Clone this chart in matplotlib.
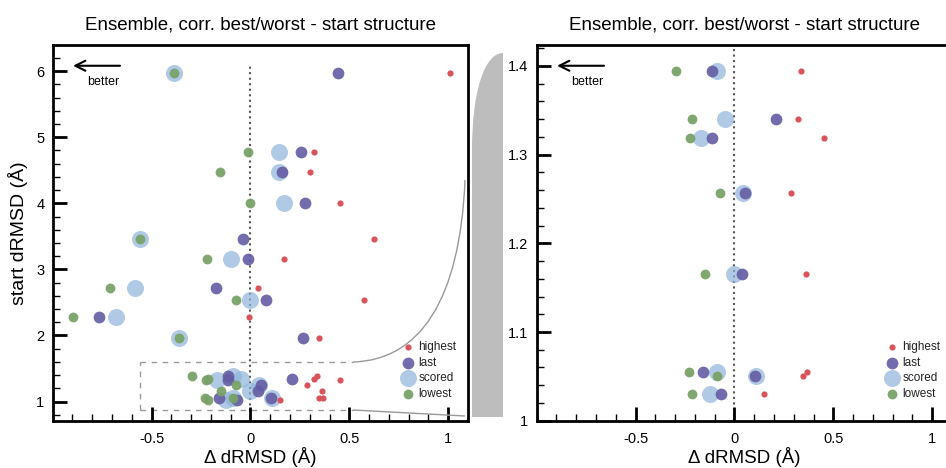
import matplotlib
matplotlib.use("Agg")
import matplotlib.pyplot as plt
from matplotlib.ticker import MultipleLocator, FormatStrFormatter, FixedLocator
from matplotlib.path import Path
from matplotlib.patches import PathPatch

plt.rcParams['font.family'] = ['Liberation Sans', 'DejaVu Sans']
plt.rcParams['axes.unicode_minus'] = False

# start structure dRMSD (y) and Δ dRMSD of the four selections (x)
start = [5.97, 4.77, 4.47, 4.01, 3.46, 3.16, 2.72, 2.53, 2.28, 1.96,
         1.394, 1.340, 1.319, 1.2565, 1.165, 1.0546, 1.050, 1.0305]
lowest = [-0.385, -0.013, -0.153, -0.003, -0.559, -0.222, -0.71, -0.071, -0.897, -0.362,
          -0.297, -0.215, -0.223, -0.075, -0.149, -0.23, -0.086, -0.216]
scored = [-0.385, 0.145, 0.145, 0.172, -0.559, -0.098, -0.586, -0.003, -0.682, -0.362,
          -0.086, -0.049, -0.17, 0.042, 0.0, -0.087, 0.109, -0.124]
last = [0.443, 0.254, 0.157, 0.274, -0.039, -0.012, -0.172, 0.079, -0.764, 0.266,
        -0.114, 0.21, -0.114, 0.055, 0.037, -0.159, 0.104, -0.069]
highest = [1.008, 0.323, 0.301, 0.451, 0.623, 0.170, 0.039, 0.572, -0.007, 0.345,
           0.336, 0.322, 0.455, 0.285, 0.361, 0.369, 0.346, 0.149]

title = "Ensemble, corr. best/worst - start structure"
xlabel = "Δ dRMSD (Å)"
ylabel = "start dRMSD (Å)"
zoom_box = (-0.56, 0.52, 0.87, 1.596)

W, H = 946, 468
fig = plt.figure(figsize=(W / 100, H / 100), dpi=100)
axw = 415.3 / W
axh = 376 / H
axb = (H - 420.7) / H
ax1 = fig.add_axes([52.7 / W, axb, axw, axh])
ax2 = fig.add_axes([536.7 / W, axb, axw, axh])

c_red = '#d9545a'
c_pur = '#645ca3'
c_blue = '#8fb4dc'
c_green = '#7aa268'


def draw(ax, ylim, ymajor, yminor, full_dotted):
    if full_dotted:
        ax.axvline(0, color='#555555', ls=':', lw=1.5, zorder=1)
    else:
        ax.plot([0, 0], [0.85, 6.08], color='#555555', ls=':', lw=1.5, zorder=1)
    hs = ax.scatter(scored, start, s=150, color=c_blue, alpha=0.7, lw=0, zorder=2, label='scored')
    hl = ax.scatter(last, start, s=72, color=c_pur, alpha=0.9, lw=0, zorder=3, label='last')
    hg = ax.scatter(lowest, start, s=50, color=c_green, alpha=0.95, lw=0, zorder=4, label='lowest')
    hh = ax.scatter(highest, start, s=20, color=c_red, lw=0, zorder=5, label='highest')
    ax.set_xlim(-1.0, 1.1)
    ax.set_ylim(*ylim)
    ax.xaxis.set_major_locator(FixedLocator([-0.5, 0, 0.5, 1]))
    ax.xaxis.set_minor_locator(MultipleLocator(0.1))
    ax.yaxis.set_major_locator(MultipleLocator(ymajor))
    ax.yaxis.set_minor_locator(MultipleLocator(yminor))
    ax.xaxis.set_major_formatter(FormatStrFormatter('%g'))
    ax.yaxis.set_major_formatter(FormatStrFormatter('%g'))
    ax.tick_params(which='major', direction='in', length=10, width=2, labelsize=10.5, pad=8)
    ax.tick_params(which='minor', direction='in', length=5, width=1)
    ax.tick_params(axis='y', which='major', pad=6)
    for sp in ax.spines.values():
        sp.set_linewidth(2)
    ax.set_title(title, fontsize=13.5, pad=11)
    ax.set_xlabel(xlabel, fontsize=13.5, labelpad=1)
    ax.annotate('', xy=(0.049, 0.944), xytext=(0.162, 0.944), xycoords='axes fraction',
                arrowprops=dict(arrowstyle='->', lw=1.5, color='black',
                                mutation_scale=18, shrinkA=0, shrinkB=0))
    ax.text(0.082, 0.902, 'better', transform=ax.transAxes, fontsize=9,
            ha='left', va='center')
    leg = ax.legend(handles=[hh, hl, hs, hg], loc='lower left',
                    bbox_to_anchor=(0.826, 0.04), frameon=False, fontsize=8.5,
                    handlelength=1.0, handletextpad=0.4, borderpad=0,
                    labelspacing=0.3, scatterpoints=1)
    for t in leg.get_texts():
        t.set_color('#222222')


draw(ax1, (0.71, 6.4), 1, 0.2, False)
draw(ax2, (1.0, 1.424), 0.1, 0.02, True)
ax1.set_ylabel(ylabel, fontsize=14, labelpad=6)

# dashed zoom box (top, left, bottom)
x0, x1, y0, y1 = zoom_box
dash = dict(color='#999999', lw=1, ls=(0, (4, 4)), zorder=1)
ax1.plot([x0, x1], [y1, y1], **dash)
ax1.plot([x0, x0], [y0, y1], **dash)
ax1.plot([x0, x1], [y0, y0], **dash)


def fp(px, py):
    return (px / W, 1 - py / H)


# connector curves
top = Path([fp(353, 362), fp(420, 360), fp(460, 300), fp(465, 180)],
           [Path.MOVETO, Path.CURVE4, Path.CURVE4, Path.CURVE4])
fig.add_artist(PathPatch(top, transform=fig.transFigure, fc='none', ec='#999999', lw=1))
bot = Path([fp(353, 410), fp(465, 416)], [Path.MOVETO, Path.LINETO])
fig.add_artist(PathPatch(bot, transform=fig.transFigure, fc='none', ec='#999999', lw=1))

# grey wedge
wedge = Path([fp(503, 53), fp(503, 417), fp(472, 417), fp(472, 150),
              fp(472, 90), fp(485, 53), fp(503, 53)],
             [Path.MOVETO, Path.LINETO, Path.LINETO, Path.LINETO,
              Path.CURVE4, Path.CURVE4, Path.CURVE4])
fig.add_artist(PathPatch(wedge, transform=fig.transFigure, fc='#bdbdbd', ec='none'))

fig.savefig('out.png', dpi=100)
